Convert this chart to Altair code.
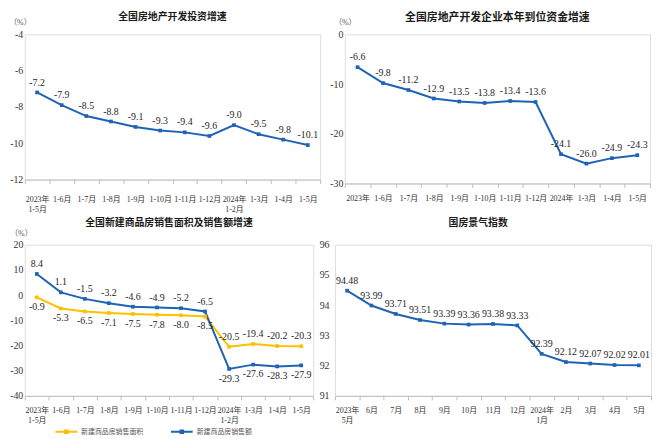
import altair as alt
import pandas as pd

# ---------------- data ----------------
inv_cats = ["2023年\n1-5月", "1-6月", "1-7月", "1-8月", "1-9月", "1-10月", "1-11月",
            "1-12月", "2024年\n1-2月", "1-3月", "1-4月", "1-5月"]
inv_vals = [-7.2, -7.9, -8.5, -8.8, -9.1, -9.3, -9.4, -9.6, -9.0, -9.5, -9.8, -10.1]

fund_cats = ["2023年", "1-6月", "1-7月", "1-8月", "1-9月", "1-10月", "1-11月",
             "1-12月", "2024年", "1-3月", "1-4月", "1-5月"]
fund_vals = [-6.6, -9.8, -11.2, -12.9, -13.5, -13.8, -13.4, -13.6, -24.1, -26.0, -24.9, -24.3]

sales_cats = ["2023年\n1-5月", "1-6月", "1-7月", "1-8月", "1-9月", "1-10月", "1-11月",
              "1-12月", "2024年\n1-2月", "1-3月", "1-4月", "1-5月"]
series_names = ["新建商品房销售面积", "新建商品房销售额"]
area_vals = [-0.9, -5.3, -6.5, -7.1, -7.5, -7.8, -8.0, -8.5, -20.5, -19.4, -20.2, -20.3]
amount_vals = [8.4, 1.1, -1.5, -3.2, -4.6, -4.9, -5.2, -6.5, -29.3, -27.6, -28.3, -27.9]

clim_cats = ["2023年\n5月", "6月", "7月", "8月", "9月", "10月", "11月", "12月",
             "2024年\n1月", "2月", "3月", "4月", "5月"]
clim_vals = [94.48, 93.99, 93.71, 93.51, 93.39, 93.36, 93.38, 93.33,
             92.39, 92.12, 92.07, 92.02, 92.01]

# ---------------- style ----------------
BLUE = "#1f63b5"
YELLOW = "#ffc000"
SERIF = "Liberation Serif, Noto Sans CJK SC"
SANS = "Noto Sans CJK SC"
FRAME = "#d4d4d4"
TXT = "#262626"
MINUS = "\u2212"


def label_expr(cats):
    items = ["[" + ",".join("'%s'" % s for s in c.split("\n")) + "]" for c in cats]
    return "[" + ",".join(items) + "][datum.value]"


def x_enc(cats, pad):
    n = len(cats)
    return alt.X("i:O",
                 scale=alt.Scale(type="band", domain=list(range(n)), paddingInner=0, paddingOuter=0),
                 bandPosition=0.5,
                 axis=alt.Axis(title=None, labelExpr=label_expr(cats), labelAngle=0,
                               tickBand="extent", tickSize=4, tickColor="#bdbdbd",
                               domainColor="#bdbdbd", labelFont=SERIF, labelFontSize=8,
                               labelColor="#333333", labelPadding=pad, labelLineHeight=10,
                               grid=False))


def y_enc(domain, values, pct=None, pad=2):
    kw = dict(values=values, ticks=False, domain=False, grid=False, labelFont=SERIF,
              labelFontSize=10, labelColor="#333333", labelPadding=pad,
              labelExpr="replace(datum.label, '%s', '-')" % MINUS)
    if pct is not None:
        kw.update(title="（%）", titleAngle=0, titleX=pct[0], titleY=pct[1], titleAlign="center",
                  titleBaseline="middle", titleFont=SERIF, titleFontSize=8,
                  titleFontWeight="normal", titleColor="#555555")
    else:
        kw.update(title=None)
    return alt.Y("v:Q", scale=alt.Scale(domain=domain, nice=False, zero=False), axis=alt.Axis(**kw))


def title(text, size=10, offset=0, dx=0):
    return alt.Title(text, font=SANS, fontSize=size, fontWeight="bold", color="#1a1a1a",
                     anchor="middle", frame="group", offset=offset, dx=dx)


def lbl_calc(fmt):
    return "replace(format(datum.v, '%s'), '%s', '-')" % (fmt, MINUS)


def simple_panel(cats, vals, ydom, yvals, ttl, w, h, fmt, pct, tsize, toff, tdx=0, pad=2, xpad=2):
    df = pd.DataFrame({"i": list(range(len(cats))), "v": vals})
    base = alt.Chart(df).encode(x=x_enc(cats, xpad), y=y_enc(ydom, yvals, pct, pad))
    line = base.mark_line(color=BLUE, strokeWidth=2)
    pts = base.mark_square(color=BLUE, size=14, opacity=1)
    txt = base.transform_calculate(lbl=lbl_calc(fmt)).mark_text(
        baseline="bottom", dy=-5, font=SERIF, fontSize=10, color=TXT).encode(text="lbl:N")
    return alt.layer(line, pts, txt).properties(width=w, height=h,
                                                 title=title(ttl, tsize, toff, tdx))


p1 = simple_panel(inv_cats, inv_vals, [-12, -4], [-12, -10, -8, -6, -4],
                  "全国房地产开发投资增速", 299, 147, ".1f", (-5, -12), 10, -3, xpad=12)
p2 = simple_panel(fund_cats, fund_vals, [-30, 0], [-30, -20, -10, 0],
                  "全国房地产开发企业本年到位资金增速", 309, 151, ".1f", (0, -12), 11, -4, xpad=7)
p4 = simple_panel(clim_cats, clim_vals, [91, 96], [91, 92, 93, 94, 95, 96],
                  "国房景气指数", 320, 153, ".2f", None, 10, 12, -15, pad=6, xpad=7)

# panel 3 (two series)
n3 = len(sales_cats)
rows = []
for k in range(n3):
    rows.append({"i": k, "v": area_vals[k], "s": series_names[0], "above": k >= 8})
for k in range(n3):
    rows.append({"i": k, "v": amount_vals[k], "s": series_names[1], "above": k < 8})
df3 = pd.DataFrame(rows)

base3 = alt.Chart(df3).encode(x=x_enc(sales_cats, 7),
                              y=y_enc([-40, 20], [-40, -30, -20, -10, 0, 10, 20], (-4, -11)))
cscale = alt.Scale(domain=series_names, range=[YELLOW, BLUE])
color3 = alt.Color("s:N", sort=series_names, scale=cscale,
                   legend=alt.Legend(title=" ", titleOrient="left", titlePadding=30,
                                     titleFontSize=7,
                                     orient="bottom", offset=-6,
                                     direction="horizontal",
                                     symbolType="M-1,0H1M-0.12,-0.12H0.12V0.12H-0.12Z",
                                     symbolSize=484, symbolStrokeWidth=2,
                                     labelFont=SANS, labelFontSize=7, labelColor="#555555",
                                     labelOffset=3, columnPadding=24))
line3 = base3.mark_line(strokeWidth=2).encode(color=color3, detail="s:N")
pts3 = base3.mark_square(size=14, opacity=1).encode(color=alt.Color("s:N", scale=cscale, legend=None))
lab3 = base3.transform_calculate(lbl=lbl_calc(".1f"))
txt_up = lab3.transform_filter("datum.above").mark_text(
    baseline="bottom", dy=-5, font=SERIF, fontSize=10, color=TXT).encode(text="lbl:N")
txt_dn = lab3.transform_filter("!datum.above").mark_text(
    baseline="top", dy=5, font=SERIF, fontSize=10, color=TXT).encode(text="lbl:N")
p3 = alt.layer(line3, pts3, txt_up, txt_dn).properties(
    width=292, height=153, title=title("全国新建商品房销售面积及销售额增速", 10, 2))

row1 = alt.hconcat(p1, p2, spacing=25, bounds="flush")
row2 = alt.hconcat(p3, p4, spacing=22, bounds="flush")

chart = alt.vconcat(row1, row2, spacing=3).properties(padding=0).configure_view(
    stroke=FRAME, strokeWidth=1).configure(background="white")

chart.save("out.html", embed_options={"renderer": "svg", "actions": False})
